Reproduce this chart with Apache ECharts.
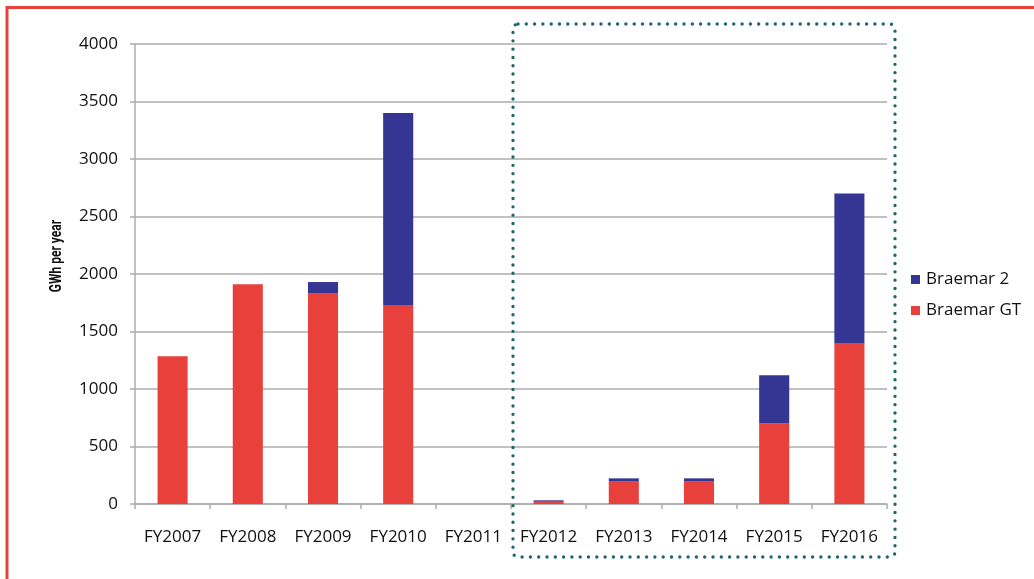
<!DOCTYPE html>
<html>
<head>
<meta charset="utf-8">
<title>Braemar generation</title>
<script src="https://cdn.jsdelivr.net/npm/echarts@6/dist/echarts.min.js"></script>
<style>
  html, body { margin: 0; padding: 0; background: #ffffff; }
  #chart { width: 1034px; height: 579px; }
</style>
</head>
<body>
<div id="chart"></div>
<script>
// Annual generation (GWh) by station
const categories = ['FY2007', 'FY2008', 'FY2009', 'FY2010', 'FY2011', 'FY2012', 'FY2013', 'FY2014', 'FY2015', 'FY2016'];
const braemarGT = [1285, 1910, 1830, 1730, 0, 20, 195, 195, 700, 1400];
const braemar2  = [0, 0, 100, 1670, 0, 12, 28, 28, 420, 1300];
const yTicks = [0, 500, 1000, 1500, 2000, 2500, 3000, 3500, 4000];
const yTitle = 'GWh per year';

const RED = '#e8403a';
const BLUE = '#353594';
const GRID = '#acacac';
const FONT = '"Open Sans", "Liberation Sans", sans-serif';

const chart = echarts.init(document.getElementById('chart'), null, { renderer: 'canvas' });

chart.setOption({
  animation: false,
  backgroundColor: '#ffffff',
  grid: { left: 135, right: 147, top: 44, bottom: 75, containLabel: false },
  legend: {
    orient: 'vertical',
    left: 906,
    top: 266,
    itemWidth: 9,
    itemHeight: 9,
    itemGap: 14,
    icon: 'rect',
    data: ['Braemar 2', 'Braemar GT'],
    textStyle: { fontFamily: FONT, fontSize: 17, color: '#111111', padding: [0, 0, 0, 1] }
  },
  xAxis: {
    type: 'category',
    data: categories,
    axisLine: { lineStyle: { color: GRID, width: 1.5 } },
    axisTick: { show: true, length: 5, alignWithLabel: false, lineStyle: { color: GRID, width: 1.5 } },
    axisLabel: { margin: 25, fontFamily: FONT, fontSize: 17, color: '#111111', interval: 0 }
  },
  yAxis: {
    type: 'value',
    min: yTicks[0],
    max: yTicks[yTicks.length - 1],
    interval: 500,
    axisLine: { show: true, lineStyle: { color: GRID, width: 1.5 } },
    axisTick: { show: true, length: 5, lineStyle: { color: GRID, width: 1.5 } },
    splitLine: { show: true, lineStyle: { color: GRID, width: 1.5 } },
    axisLabel: {
      margin: 17, fontFamily: FONT, fontSize: 17, color: '#111111',
      formatter: (v) => String(v)
    }
  },
  series: [
    {
      name: 'Braemar GT',
      type: 'bar',
      stack: 'gen',
      barWidth: '40%',
      data: braemarGT,
      itemStyle: { color: RED, borderWidth: 0 }
    },
    {
      name: 'Braemar 2',
      type: 'bar',
      stack: 'gen',
      barWidth: '40%',
      data: braemar2,
      itemStyle: { color: BLUE, borderWidth: 0 }
    }
  ],
  graphic: [
    // outer frame (top and left edges)
    { type: 'line', shape: { x1: 6, y1: 7.5, x2: 1034, y2: 7.5 }, style: { stroke: RED, lineWidth: 3 }, silent: true },
    { type: 'line', shape: { x1: 7, y1: 6, x2: 7, y2: 579 }, style: { stroke: RED, lineWidth: 3 }, silent: true },
    // vertical axis title, condensed along its run
    {
      type: 'text',
      x: 57,
      y: 256,
      rotation: Math.PI / 2,
      scaleX: 0.75,
      style: {
        text: yTitle,
        fontFamily: 'Roboto, "Open Sans", sans-serif',
        fontSize: 16,
        fontWeight: 'bold',
        fill: '#111111',
        textAlign: 'center',
        textVerticalAlign: 'middle'
      },
      silent: true
    },
    // dotted outline around the forecast years
    {
      type: 'rect',
      shape: { x: 513, y: 24, width: 382, height: 533, r: 5 },
      style: { fill: 'none', stroke: '#1d6670', lineWidth: 3.4, lineDash: [0, 8.3], lineCap: 'round' },
      silent: true,
      z: 10
    }
  ]
});
</script>
</body>
</html>
